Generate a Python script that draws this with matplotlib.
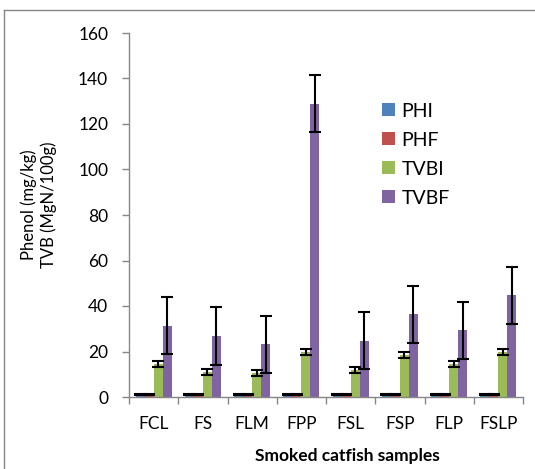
import numpy as np
import matplotlib.pyplot as plt
from matplotlib.lines import Line2D

plt.rcParams['font.family'] = ['Lato', 'DejaVu Sans']

samples = ["FCL", "FS", "FLM", "FPP", "FSL", "FSP", "FLP", "FSLP"]
series = ["PHI", "PHF", "TVBI", "TVBF"]
phi = [1.0, 1.0, 1.0, 1.0, 1.0, 1.0, 1.0, 1.0]
phf = [1.1, 1.1, 1.1, 1.1, 1.1, 1.1, 1.1, 1.1]
tvbi = [14.4, 11.1, 10.5, 19.8, 12.0, 18.3, 14.5, 19.8]
tvbf = [31.3, 26.8, 23.1, 128.9, 24.7, 36.3, 29.4, 44.7]
phi_err = [0.15] * 8
phf_err = [0.15] * 8
tvbi_err = [1.3, 1.3, 1.3, 1.3, 1.3, 1.3, 1.3, 1.3]
tvbf_err = [12.5, 12.6, 12.5, 12.5, 12.5, 12.4, 12.5, 12.6]
colors = ["#4F81BD", "#C0504D", "#9BBB59", "#8064A2"]

fig = plt.figure(figsize=(5.35, 4.69), dpi=100)
ax = fig.add_axes([129/535, 72/469, 394/535, 364/469])

x = np.arange(len(samples))
w = 0.183
vals = [phi, phf, tvbi, tvbf]
errs = [phi_err, phf_err, tvbi_err, tvbf_err]
for i in range(4):
    pos = x + (i - 1.5) * w
    ax.bar(pos, vals[i], w, color=colors[i], label=series[i], zorder=2)
    ax.errorbar(pos, vals[i], yerr=errs[i], fmt='none', ecolor='black',
                elinewidth=1.5, capsize=4.3, capthick=1.5, zorder=3)

ax.set_xlim(-0.5, len(samples) - 0.5)
ax.set_ylim(0, 160)
ax.set_yticks(np.arange(0, 161, 20))
ax.set_xticks(x)
ax.set_xticklabels(samples)
ax.set_xticks(np.arange(-0.5, len(samples), 1), minor=True)
ax.tick_params(axis='x', which='major', length=0, pad=14, labelsize=12.5)
ax.tick_params(axis='x', which='minor', length=5, color='#868686', width=1)
ax.tick_params(axis='y', length=5, color='#868686', width=1, pad=10, labelsize=12.5)
for s in ['top', 'right']:
    ax.spines[s].set_visible(False)
for s in ['left', 'bottom']:
    ax.spines[s].set_color('#868686')
    ax.spines[s].set_linewidth(1)

leg = ax.legend(loc='upper left', bbox_to_anchor=(0.642, 0.809), frameon=False,
                fontsize=14, handlelength=0.65, handleheight=0.65,
                handletextpad=0.35, labelspacing=0.62, borderpad=0, borderaxespad=0)

fig.text(39/535, 1 - 205/469, "Phenol (mg/kg)\nTVB (MgN/100g)", rotation=90,
         ha='center', va='center', fontsize=12, linespacing=1.25)
fig.text(347/535, 1 - 456/469, "Smoked catfish samples", ha='center', va='center',
         fontsize=12.5, fontweight='bold')

# chart area border
fig.add_artist(Line2D([4/535, 4/535], [0, 1 - 10/469], transform=fig.transFigure,
                      color='#868686', lw=1))
fig.add_artist(Line2D([4/535, 1], [1 - 10/469, 1 - 10/469], transform=fig.transFigure,
                      color='#868686', lw=1))

fig.savefig("out.png", dpi=100)
